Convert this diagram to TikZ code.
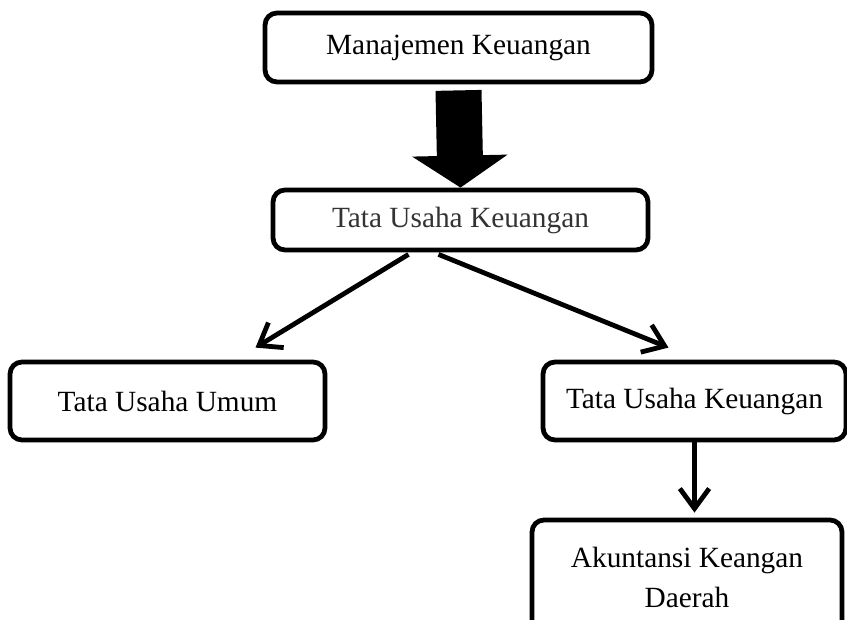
\documentclass[tikz,border=0pt]{standalone}
\usepackage{fontspec}
\setmainfont{Liberation Serif}
\usetikzlibrary{arrows.meta,calc}

\newdimen\pxu
\pxu=0.75pt

\tikzset{
  unit/.style={draw, line width=3.6pt, rounded corners=9pt, align=center,
    font=\fontsize{22}{30}\selectfont},
  link/.style={line width=3.6pt, -{Straight Barb[length=15pt, width=22pt]}}
}

\begin{document}
\begin{tikzpicture}[x=0.75pt, y=-0.75pt]
    \clip (0, 0) rectangle (847, 620);
    \useasboundingbox (0, 0) rectangle (847, 620);

    \node[unit, minimum width=387\pxu, minimum height=69\pxu] (mk) at (458.5, 47.5) {Manajemen Keuangan};
    \node[unit, minimum width=375\pxu, minimum height=60\pxu, text=black!80] (tuk) at (460.5, 220) {Tata Usaha Keuangan};
    \node[unit, minimum width=315\pxu, minimum height=78\pxu] (tuu) at (167.5, 401) {Tata Usaha Umum};
    \node[unit, minimum width=303\pxu, minimum height=78\pxu] (tk2) at (694.5, 401) {Tata Usaha Keuangan};
    \node[unit, minimum width=310\pxu, minimum height=114\pxu] (akd) at (687, 577) {Akuntansi Keangan\\Daerah};

    % big arrow
    \draw[line width=34.5pt, -{Triangle[width=70.5pt, length=24pt]}]
      ($(mk.south)+(0, 6)$) -- (tuk.north);

    \draw[link] ($(tuk.south)+(-52, 2)$) -- ($(tuu.north)+(88, -12)$);
    \draw[link] ($(tuk.south)+(-22, 2)$) -- ($(tk2.north)+(-26, -12)$);
    \draw[link] (tk2.south) -- ($(tk2.south |- akd.north)+(0, -5)$);
  \end{tikzpicture}
\end{document}
